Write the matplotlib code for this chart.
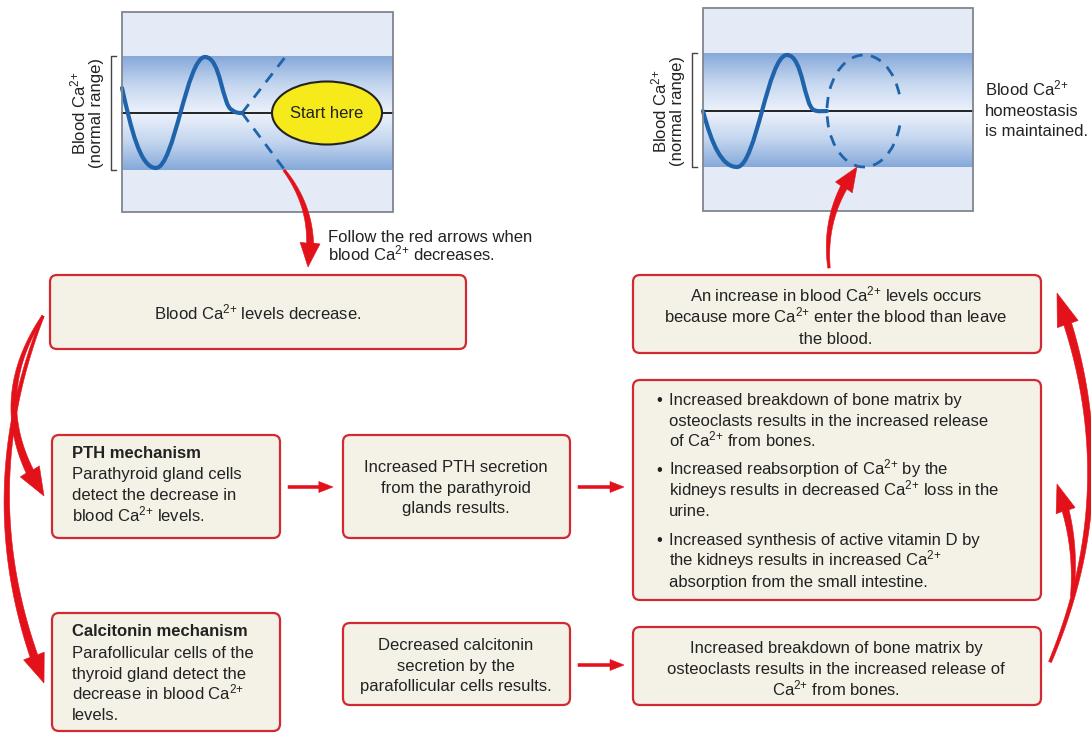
import numpy as np
import matplotlib
matplotlib.use("Agg")
import matplotlib.pyplot as plt
from matplotlib.patches import FancyBboxPatch, Ellipse, Arc, Rectangle, PathPatch, Polygon
from matplotlib.path import Path
from matplotlib.colors import LinearSegmentedColormap

plt.rcParams['font.family'] = ['Liberation Sans', 'DejaVu Sans']
plt.rcParams['mathtext.fontset'] = 'custom'
plt.rcParams['mathtext.rm'] = 'Liberation Sans'
plt.rcParams['mathtext.it'] = 'Liberation Sans:italic'
plt.rcParams['mathtext.bf'] = 'Liberation Sans:bold'

CA = "Ca$^{2{+}}$"
TXT = "#222222"
RED = "#e3121a"
EDGE = "#d22a33"
FILL = "#f4f1e7"
BLUE = "#1f64aa"
FS = 12
BASE = 5.5  # baseline offset from a line's visual centre, pixels

# ---- text content ----
box_decrease = ["Blood %s levels decrease." % CA]
pth_title = "PTH mechanism"
pth_lines = ["Parathyroid gland cells", "detect the decrease in", "blood %s levels." % CA]
pth_result = ["Increased PTH secretion", "from the parathyroid", "glands results."]
pth_effects = [
    ["Increased breakdown of bone matrix by",
     "osteoclasts results in the increased release",
     "of %s from bones." % CA],
    ["Increased reabsorption of %s by the" % CA,
     "kidneys results in decreased %s loss in the" % CA,
     "urine."],
    ["Increased synthesis of active vitamin D by",
     "the kidneys results in increased %s" % CA,
     "absorption from the small intestine."],
]
calc_title = "Calcitonin mechanism"
calc_lines = ["Parafollicular cells of the", "thyroid gland detect the",
              "decrease in blood %s" % CA, "levels."]
calc_result = ["Decreased calcitonin", "secretion by the", "parafollicular cells results."]
calc_effect = ["Increased breakdown of bone matrix by",
               "osteoclasts results in the increased release of",
               "%s from bones." % CA]
increase_box = ["An increase in blood %s levels occurs" % CA,
                "because more %s enter the blood than leave" % CA,
                "the blood."]
follow_note = ["Follow the red arrows when", "blood %s decreases." % CA]
homeo_note = ["Blood %s" % CA, "homeostasis", "is maintained."]
axis_label = ["Blood %s" % CA, "(normal range)"]

# ---- box frames (x0, y0, x1, y1) in pixels, y downward ----
boxes = {
    "decrease": (50, 275, 466, 349),
    "pth": (52, 435, 280, 538),
    "pth_res": (343, 435, 570, 538),
    "effects": (633, 380, 1041, 600),
    "increase": (633, 275, 1041, 353),
    "calc": (52, 613, 280, 731),
    "calc_res": (343, 623, 570, 705),
    "calc_eff": (633, 627, 1041, 705),
}

# blood calcium trace key points (pixel coords of the two small graphs)
left_trace = [(122, 88), (131, 128), (140, 168), (156, 168), (174, 168), (187, 57), (205, 57),
              (221, 57), (222, 106), (232, 110), (236, 113), (238, 113), (242, 113)]
left_dash_up = [(242, 113), (286, 56)]
left_dash_down = [(242, 113), (284, 169)]
right_trace = [(703, 111), (712, 145), (722, 167), (737, 167), (756, 167), (768, 55), (787, 55),
               (803, 55), (804, 106), (814, 110), (818, 112), (822, 111), (827, 111)]

fig = plt.figure(figsize=(10.91, 7.38), dpi=100)
ax = fig.add_axes([0, 0, 1, 1])
ax.set_xlim(0, 1091)
ax.set_ylim(738, 0)
ax.axis("off")

band_cmap = LinearSegmentedColormap.from_list("band", ["#86a9da", "#c4d6ef", "#edf2fb"])


def line_text(x, yc, s, ha="left", **kw):
    kw.setdefault("fontsize", FS)
    kw.setdefault("color", TXT)
    kw.setdefault("zorder", 4)
    ax.text(x, yc + BASE, s, ha=ha, va="baseline", **kw)


def graph_panel(x0, x1, y0, y1, b0, b1, mid):
    ax.add_patch(Rectangle((x0, y0), x1 - x0, y1 - y0, facecolor="#e4ebf7", edgecolor="none", zorder=1))
    yy = np.linspace(b0, b1, 200)
    g = np.where(yy < mid, (yy - b0) / (mid - b0), (b1 - yy) / (b1 - mid))
    ax.imshow(g[:, None], extent=(x0, x1, b1, b0), cmap=band_cmap, vmin=0, vmax=1,
              aspect="auto", zorder=2, interpolation="bilinear")
    ax.add_patch(Rectangle((x0, y0), x1 - x0, y1 - y0, facecolor="none", edgecolor="#80868e", lw=1.3, zorder=6))
    ax.plot([x0, x1], [mid, mid], color="black", lw=1.2, zorder=3)
    bx = x0 - 11
    ax.plot([bx + 5, bx, bx, bx + 5], [b0, b0, b1, b1], color="#444444", lw=1.0, zorder=3)
    for off, s in zip((-37, -21), axis_label):
        ax.text(x0 + off, mid, s, rotation=90, ha="center", va="baseline", fontsize=FS, color=TXT,
                rotation_mode="anchor")
    ax.set_xlim(0, 1091)
    ax.set_ylim(738, 0)


def bezier(pts, **kw):
    codes = [Path.MOVETO] + [Path.CURVE4] * (len(pts) - 1)
    ax.add_patch(PathPatch(Path(pts, codes), facecolor="none", **kw))


graph_panel(122, 393, 12, 212, 56, 170, 113)
graph_panel(703, 973, 8, 211, 53, 167, 111)

bezier(left_trace, edgecolor=BLUE, lw=3, zorder=4, capstyle="round")
for seg in (left_dash_up, left_dash_down):
    xs, ys = zip(*seg)
    ax.plot(xs, ys, color=BLUE, lw=2, ls=(0, (4, 3)), zorder=4)
ax.add_patch(Ellipse((327, 113), 110, 63, facecolor="#f6ea1b", edgecolor="#222222", lw=1.5, zorder=5))
line_text(327, 113, "Start here", ha="center", zorder=6)

bezier(right_trace, edgecolor=BLUE, lw=3, zorder=4, capstyle="round")
ax.add_patch(Arc((864, 111), 74, 112, theta1=22, theta2=338, edgecolor=BLUE, lw=2,
                 ls=(0, (4, 3)), zorder=4))

for i, line in enumerate(homeo_note):
    line_text(985, 90 + i * 20, line)
for i, line in enumerate(follow_note):
    line_text(328, 236 + i * 19, line)

# ---- boxes ----
for (x0, y0, x1, y1) in boxes.values():
    ax.add_patch(FancyBboxPatch((x0, y0), x1 - x0, y1 - y0, boxstyle="round,pad=0,rounding_size=7",
                                facecolor=FILL, edgecolor=EDGE, lw=1.6, zorder=3))


def centered(lines, cx, y_first, step=21):
    for i, line in enumerate(lines):
        line_text(cx, y_first + i * step, line, ha="center")


def left(lines, x, y_first, step=21):
    for i, line in enumerate(lines):
        line_text(x, y_first + i * step, line)


centered(box_decrease, 258, 314)
line_text(72, 453, pth_title, fontweight="bold")
left(pth_lines, 72, 474)
centered(pth_result, 456, 466)
y = 399
for block in pth_effects:
    line_text(656, y, "•")
    left(block, 669, y)
    y += 3 * 21 + 7
centered(increase_box, 836, 296)
line_text(72, 631, calc_title, fontweight="bold")
left(calc_lines, 72, 652)
centered(calc_result, 456, 644)
centered(calc_effect, 836, 648)


# ---- red arrows: tapered quadratic curve with a triangular head ----
def red_arrow(p0, p1, rad, hw=22, hl=26, w0=2.0, w1=7.0):
    p0 = np.array(p0, float)
    p1 = np.array(p1, float)
    d = p1 - p0
    c = (p0 + p1) / 2 + rad * np.array([-d[1], d[0]])
    t = np.linspace(0, 1, 300)[:, None]
    pts = (1 - t) ** 2 * p0 + 2 * (1 - t) * t * c + t ** 2 * p1
    seg = np.hypot(*np.diff(pts, axis=0).T)
    s = np.concatenate([[0], np.cumsum(seg)])
    keep = s <= s[-1] - hl
    shaft = pts[keep]
    tang = np.gradient(shaft, axis=0)
    tang /= np.hypot(tang[:, 0], tang[:, 1])[:, None]
    nrm = np.stack([-tang[:, 1], tang[:, 0]], axis=1)
    w = np.linspace(w0, w1, len(shaft))[:, None] / 2
    base = shaft[-1]
    hdir = (p1 - base) / np.hypot(*(p1 - base))
    hn = np.array([-hdir[1], hdir[0]])
    poly = np.vstack([shaft + nrm * w, [base + hn * hw / 2], [p1], [base - hn * hw / 2],
                      (shaft - nrm * w)[::-1]])
    ax.add_patch(Polygon(poly, closed=True, facecolor=RED, edgecolor=RED, lw=0.4, zorder=7))


red_arrow((284, 170), (308, 267), -0.22, hw=20, hl=24, w0=2.5, w1=7)
red_arrow((829, 268), (857, 167), -0.2, hw=20, hl=24, w0=2.5, w1=7)
red_arrow((43, 316), (44, 496), 0.33, hw=22, hl=28, w0=2.5, w1=8)
red_arrow((43, 316), (44, 683), 0.2, hw=22, hl=28, w0=2.5, w1=8)
red_arrow((1050, 662), (1057, 293), 0.2, hw=22, hl=32, w0=3, w1=8)
red_arrow((1072, 596), (1057, 484), 0.12, hw=20, hl=28, w0=3, w1=7)
for (x0, x1, yy) in [(288, 333, 487), (578, 624, 487), (578, 624, 665)]:
    red_arrow((x0, yy), (x1, yy), 0, hw=11, hl=14, w0=3, w1=3)

fig.savefig("out.png", dpi=100, facecolor="white")
